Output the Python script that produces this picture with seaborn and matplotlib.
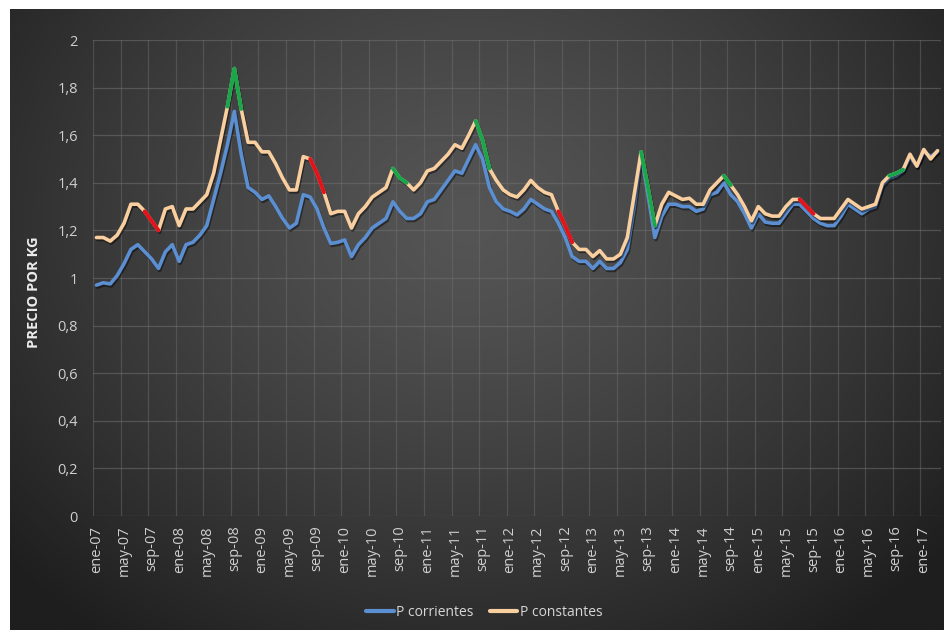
import numpy as np
import pandas as pd
import matplotlib
matplotlib.use("Agg")
import matplotlib.pyplot as plt
import matplotlib.patheffects as pe
import seaborn as sns

# ---------------- data ----------------
p_corrientes = [0.97, 0.98, 0.975, 1.01, 1.06, 1.12, 1.14, 1.11, 1.08, 1.04, 1.11, 1.14,
                1.07, 1.14, 1.15, 1.18, 1.22, 1.33, 1.44, 1.56, 1.70, 1.52, 1.38, 1.36,
                1.33, 1.345, 1.30, 1.25, 1.21, 1.23, 1.35, 1.34, 1.29, 1.21, 1.145, 1.15,
                1.16, 1.09, 1.14, 1.17, 1.21, 1.23, 1.25, 1.32, 1.28, 1.25, 1.25, 1.27,
                1.32, 1.33, 1.37, 1.41, 1.45, 1.44, 1.50, 1.56, 1.50, 1.38, 1.32, 1.29,
                1.28, 1.265, 1.29, 1.33, 1.31, 1.29, 1.28, 1.23, 1.17, 1.09, 1.07, 1.07,
                1.04, 1.07, 1.04, 1.04, 1.065, 1.12, 1.30, 1.52, 1.35, 1.17, 1.26, 1.31,
                1.31, 1.30, 1.30, 1.28, 1.29, 1.35, 1.36, 1.40, 1.35, 1.32, 1.27, 1.21,
                1.27, 1.235, 1.23, 1.23, 1.27, 1.31, 1.31, 1.28, 1.25, 1.23, 1.22, 1.22,
                1.26, 1.31, 1.29, 1.27, 1.29, 1.30, 1.39, 1.42, 1.43, 1.45, 1.51, 1.47,
                1.53, 1.51, 1.53]

p_constantes = [1.17, 1.17, 1.155, 1.18, 1.23, 1.31, 1.31, 1.28, 1.24, 1.20, 1.29, 1.30,
                1.22, 1.29, 1.29, 1.32, 1.35, 1.44, 1.58, 1.72, 1.88, 1.71, 1.57, 1.57,
                1.53, 1.53, 1.48, 1.42, 1.37, 1.37, 1.51, 1.50, 1.44, 1.36, 1.27, 1.28,
                1.28, 1.21, 1.27, 1.30, 1.34, 1.36, 1.38, 1.46, 1.42, 1.40, 1.37, 1.40,
                1.45, 1.46, 1.49, 1.52, 1.56, 1.545, 1.60, 1.66, 1.58, 1.46, 1.41, 1.37,
                1.35, 1.34, 1.37, 1.41, 1.38, 1.36, 1.35, 1.28, 1.22, 1.15, 1.12, 1.12,
                1.09, 1.115, 1.08, 1.08, 1.10, 1.17, 1.35, 1.53, 1.38, 1.22, 1.31, 1.36,
                1.345, 1.33, 1.335, 1.31, 1.31, 1.37, 1.40, 1.43, 1.39, 1.35, 1.30, 1.24,
                1.30, 1.27, 1.26, 1.26, 1.30, 1.33, 1.33, 1.30, 1.27, 1.25, 1.25, 1.25,
                1.29, 1.33, 1.31, 1.29, 1.30, 1.31, 1.40, 1.43, 1.44, 1.455, 1.52, 1.47,
                1.54, 1.50, 1.535]

tick_labels = ["ene-07", "may-07", "sep-07", "ene-08", "may-08", "sep-08", "ene-09",
               "may-09", "sep-09", "ene-10", "may-10", "sep-10", "ene-11", "may-11",
               "sep-11", "ene-12", "may-12", "sep-12", "ene-13", "may-13", "sep-13",
               "ene-14", "may-14", "sep-14", "ene-15", "may-15", "sep-15", "ene-16",
               "may-16", "sep-16", "ene-17"]

# highlighted stretches of the constant-price line (start month, end month, kind)
highlights = [(7, 9, "baja"), (19, 21, "sube"), (31, 33, "baja"), (43, 45, "sube"),
              (55, 57, "sube"), (67, 69, "baja"), (79, 81, "sube"), (91, 92, "sube"),
              (102, 104, "baja"), (115, 117, "sube")]

series_names = ["P corrientes", "P constantes"]

n = len(p_corrientes)
mes = np.arange(n)
df = pd.DataFrame({
    "mes": np.concatenate([mes, mes]),
    "valor": np.concatenate([p_corrientes, p_constantes]),
    "serie": [series_names[0]] * n + [series_names[1]] * n,
})

# ---------------- style ----------------
W, H = 944, 630
sns.set_theme(style="dark")
plt.rcParams["font.family"] = ["Open Sans", "DejaVu Sans"]

fig = plt.figure(figsize=(W / 100, H / 100), dpi=100, facecolor="white")

# dark radial gradient background panel
bg = fig.add_axes([10 / W, 0, (W - 10) / W, 1 - 9 / H], zorder=-5)
gx, gy = np.meshgrid(np.linspace(10, W, 400), np.linspace(9, H, 300))
r = np.sqrt(((gx - 470) / 620) ** 2 + ((gy - 220) / 520) ** 2)
r = np.clip(r, 0, 1)
inner = np.array([0x55, 0x55, 0x55]) / 255
outer = np.array([0x1e, 0x1e, 0x1e]) / 255
img = inner[None, None, :] * (1 - r[..., None] ** 1.3) + outer[None, None, :] * (r[..., None] ** 1.3)
bg.imshow(img, aspect="auto", extent=[0, 1, 0, 1], origin="upper")
bg.set_axis_off()

left, right, top, bottom = 93, 941, 40, 516
ax = fig.add_axes([left / W, 1 - bottom / H, (right - left) / W, (bottom - top) / H])
ax.set_facecolor("none")

colors = {"P corrientes": "#5b8fd2", "P constantes": "#f9cfa0"}
hl_colors = {"baja": "#e3121b", "sube": "#1aa64a"}
shadow = [pe.SimpleLineShadow(offset=(0.8, -1.4), shadow_color="black", alpha=0.45),
          pe.Normal()]

sns.lineplot(data=df, x="mes", y="valor", hue="serie", hue_order=series_names,
             palette=colors, linewidth=2.6, ax=ax, legend=True, zorder=3)
for line in ax.get_lines():
    line.set_path_effects(shadow)
    line.set_solid_joinstyle("round")

for s, e, kind in highlights:
    seg = pd.DataFrame({"mes": mes[s:e + 1], "valor": p_constantes[s:e + 1]})
    sns.lineplot(data=seg, x="mes", y="valor", color=hl_colors[kind], linewidth=2.8,
                 ax=ax, legend=False, zorder=4)

ax.set_xlim(-0.5, n - 0.5)
ax.set_ylim(0, 2)
ax.set_yticks(np.arange(0, 2.01, 0.2))
ax.set_yticklabels(["0" if v == 0 else ("1" if abs(v - 1) < 1e-9 else ("2" if abs(v - 2) < 1e-9 else f"{v:.1f}".replace(".", ",")))
                    for v in np.arange(0, 2.01, 0.2)])
tick_pos = np.arange(0, n, 4)[:len(tick_labels)]
ax.set_xticks(tick_pos)
ax.set_xticklabels(tick_labels, rotation=90)
ax.set_xticks(tick_pos - 0.5, minor=True)

ax.grid(False)
for v in np.arange(0, 2.01, 0.2):
    ax.axhline(v, color="#707070", linewidth=0.9, alpha=0.55, zorder=1)
for xv in tick_pos - 0.5:
    ax.axvline(xv, color="#707070", linewidth=0.9, alpha=0.45, zorder=1)

for sp in ax.spines.values():
    sp.set_visible(False)
ax.tick_params(axis="both", which="both", length=0, colors="#cfcfcf")
ax.tick_params(axis="y", pad=11, labelsize=10.5)
ax.tick_params(axis="x", pad=7, labelsize=10.5)

ax.set_xlabel("")
ax.set_ylabel("PRECIO POR KG", color="#ececec", fontsize=10.5, fontweight="bold")
ax.yaxis.set_label_coords(-0.061, 0.47)

sns.move_legend(ax, loc="center", bbox_to_anchor=(484 / W, 1 - 612 / H),
                bbox_transform=fig.transFigure, ncol=2, frameon=False, title=None,
                handlelength=2.0, handletextpad=0.15, columnspacing=1.2, fontsize=10)
leg = ax.get_legend()
for t in leg.get_texts():
    t.set_color("#d6d6d6")
for h in leg.get_lines():
    h.set_linewidth(3)

fig.savefig("out.png", dpi=100, facecolor="white")
